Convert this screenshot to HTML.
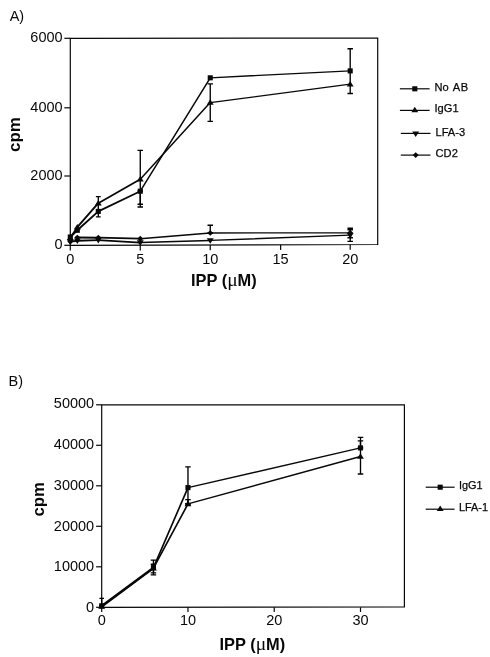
<!DOCTYPE html>
<html><head><meta charset="utf-8"><title>Figure</title>
<style>
html,body{margin:0;padding:0;background:#fff;}
body{width:490px;height:657px;overflow:hidden;}
svg{display:block;font-family:"Liberation Sans",Arial,sans-serif;fill:#080808;}
.ax{stroke:#080808;stroke-width:1.2;fill:none;}
.ln{stroke:#080808;fill:none;stroke-linecap:round;}
.eb{stroke:#000;stroke-width:1.35;fill:none;}
.tk{font-size:14.5px;}
.lg{font-size:11.1px;stroke:#080808;stroke-width:0.25px;}
.al{font-size:16.4px;font-weight:bold;}
.mu{font-family:"Liberation Serif","DejaVu Serif",serif;font-weight:normal;font-size:19.5px;}
.m{fill:#080808;stroke:none;}
</style></head><body>
<svg width="490" height="657" viewBox="0 0 490 657">
<rect width="490" height="657" fill="#fff"/>

<text class="tk" x="9.7" y="21.0">A)</text>
<path class="ax" d="M70.3 38.3L377.7 38.099999999999994L377.7 244.5L70.3 245.3Z"/>
<path class="ax" d="M64.3 245.3H70.3"/>
<text class="tk" text-anchor="end" x="62.6" y="248.9">0</text>
<path class="ax" d="M64.3 176H70.3"/>
<text class="tk" text-anchor="end" x="62.6" y="180.1">2000</text>
<path class="ax" d="M64.3 107.8H70.3"/>
<text class="tk" text-anchor="end" x="62.6" y="111.9">4000</text>
<path class="ax" d="M64.3 38.3H70.3"/>
<text class="tk" text-anchor="end" x="62.6" y="42.4">6000</text>
<path class="ax" d="M70.3 245.3V250.6"/>
<text class="tk" text-anchor="middle" x="70.3" y="263.8">0</text>
<path class="ax" d="M140.27 245.12V250.42"/>
<text class="tk" text-anchor="middle" x="140.27" y="263.8">5</text>
<path class="ax" d="M210.25 244.94V250.24"/>
<text class="tk" text-anchor="middle" x="210.25" y="263.8">10</text>
<path class="ax" d="M280.62 244.75V250.05"/>
<text class="tk" text-anchor="middle" x="280.62" y="263.8">15</text>
<path class="ax" d="M350.2 244.57V249.87"/>
<text class="tk" text-anchor="middle" x="350.2" y="263.8">20</text>
<text class="al" style="font-size:16.9px" transform="translate(19.7 134.6) rotate(-90)" text-anchor="middle">cpm</text>
<text class="al" x="191" y="286.4">IPP (<tspan class="mu">μ</tspan>M)</text>
<path class="eb" d="M98.29 196.6V216.9M95.89 196.6H100.69M95.89 216.9H100.69"/>
<path class="eb" d="M140.27 150.3V204.2M137.52 150.3H143.02M137.52 204.2H143.02"/>
<path class="eb" d="M140.27 191V207M137.52 191H143.02M137.52 207H143.02"/>
<path class="eb" d="M210.25 83.8V121.3M207.5 83.8H213M207.5 121.3H213"/>
<path class="eb" d="M350.2 48.7V93.5M347.45 48.7H352.95M347.45 93.5H352.95"/>
<path class="eb" d="M210.25 225.2V233M207.5 225.2H213M207.5 233H213"/>
<path class="eb" d="M350.2 228.2V237.7M347.45 228.2H352.95M347.45 237.7H352.95"/>
<path class="eb" d="M350.2 229.7V241.3M347.45 229.7H352.95M347.45 241.3H352.95"/>
<path class="ln" stroke-width="1.9" d="M70.3 237L77.3 230.3"/>
<path class="ln" stroke-width="1.9" d="M77.3 230.3L98.29 211.4"/>
<path class="ln" stroke-width="1.75" d="M98.29 211.4L140.27 191.2"/>
<path class="ln" stroke-width="1.5" d="M140.27 191.2L210.25 77.8"/>
<path class="ln" stroke-width="1.35" d="M210.25 77.8L350.2 70.9"/>
<rect class="m" x="67.75" y="234.45" width="5.1" height="5.1"/>
<rect class="m" x="74.75" y="227.75" width="5.1" height="5.1"/>
<rect class="m" x="95.74" y="208.85" width="5.1" height="5.1"/>
<rect class="m" x="137.72" y="188.65" width="5.1" height="5.1"/>
<rect class="m" x="207.7" y="75.25" width="5.1" height="5.1"/>
<rect class="m" x="347.65" y="68.35" width="5.1" height="5.1"/>
<path class="ln" stroke-width="1.9" d="M70.3 238L77.3 227.2"/>
<path class="ln" stroke-width="1.9" d="M77.3 227.2L98.29 203.2"/>
<path class="ln" stroke-width="1.75" d="M98.29 203.2L140.27 179.3"/>
<path class="ln" stroke-width="1.5" d="M140.27 179.3L210.25 102.6"/>
<path class="ln" stroke-width="1.35" d="M210.25 102.6L350.2 84.2"/>
<path class="m" d="M70.3 234.72L73.75 240.24L66.85 240.24Z"/>
<path class="m" d="M77.3 223.92L80.75 229.44L73.85 229.44Z"/>
<path class="m" d="M98.29 199.92L101.74 205.44L94.84 205.44Z"/>
<path class="m" d="M140.27 176.02L143.72 181.54L136.82 181.54Z"/>
<path class="m" d="M210.25 99.32L213.7 104.84L206.8 104.84Z"/>
<path class="m" d="M350.2 80.92L353.65 86.44L346.75 86.44Z"/>
<path class="ln" stroke-width="1.9" d="M70.3 241.6L77.3 240.8"/>
<path class="ln" stroke-width="1.9" d="M77.3 240.8L98.29 240.1"/>
<path class="ln" stroke-width="1.75" d="M98.29 240.1L140.27 242.6"/>
<path class="ln" stroke-width="1.5" d="M140.27 242.6L210.25 240.4"/>
<path class="ln" stroke-width="1.35" d="M210.25 240.4L350.2 235.2"/>
<path class="m" d="M70.3 244.88L73.75 239.36L66.85 239.36Z"/>
<path class="m" d="M77.3 244.08L80.75 238.56L73.85 238.56Z"/>
<path class="m" d="M98.29 243.38L101.74 237.86L94.84 237.86Z"/>
<path class="m" d="M140.27 245.88L143.72 240.36L136.82 240.36Z"/>
<path class="m" d="M210.25 243.68L213.7 238.16L206.8 238.16Z"/>
<path class="m" d="M350.2 238.48L353.65 232.96L346.75 232.96Z"/>
<path class="ln" stroke-width="1.9" d="M77.3 237.5L98.29 237.7"/>
<path class="ln" stroke-width="1.75" d="M98.29 237.7L140.27 238.7"/>
<path class="ln" stroke-width="1.5" d="M140.27 238.7L210.25 233"/>
<path class="ln" stroke-width="1.35" d="M210.25 233L350.2 232.8"/>
<path class="m" d="M70.3 238.75L73.3 241.6L70.3 244.45L67.3 241.6Z"/>
<path class="m" d="M77.3 234.65L80.3 237.5L77.3 240.35L74.3 237.5Z"/>
<path class="m" d="M98.29 234.85L101.29 237.7L98.29 240.55L95.29 237.7Z"/>
<path class="m" d="M140.27 235.85L143.27 238.7L140.27 241.55L137.27 238.7Z"/>
<path class="m" d="M210.25 230.15L213.25 233L210.25 235.85L207.25 233Z"/>
<path class="m" d="M350.2 229.95L353.2 232.8L350.2 235.65L347.2 232.8Z"/>
<path class="ax" d="M399.9 88.8H429.6"/>
<rect class="m" x="412.25" y="86.25" width="5.1" height="5.1"/>
<text class="lg" x="434.5" y="90.6">No <tspan dx="1.1" letter-spacing="0.5">AB</tspan></text>
<path class="ax" d="M399.9 110.4H429.6"/>
<path class="m" d="M414.8 106.72L418.25 112.24L411.35 112.24Z"/>
<text class="lg" x="434.5" y="112">IgG1</text>
<path class="ax" d="M400.8 133.4H430.5"/>
<path class="m" d="M415.7 136.98L419.15 131.46L412.25 131.46Z"/>
<text class="lg" x="435.5" y="135.5">LFA-3</text>
<path class="ax" d="M400.8 155.1H430.5"/>
<path class="m" d="M415.7 152.25L418.7 155.1L415.7 157.95L412.7 155.1Z"/>
<text class="lg" x="435.5" y="157.4">C<tspan letter-spacing="0.3">D2</tspan></text>
<text class="tk" x="8.6" y="386.3">B)</text>
<path class="ax" d="M101.7 404.8L404.4 404.8L404.4 607.0L101.7 607.4Z"/>
<path class="ax" d="M96.1 607.3H101.7"/>
<text class="tk" text-anchor="end" x="94.2" y="611.6">0</text>
<path class="ax" d="M96.1 566.8H101.7"/>
<text class="tk" text-anchor="end" x="94.2" y="570.8">10000</text>
<path class="ax" d="M96.1 526.3H101.7"/>
<text class="tk" text-anchor="end" x="94.2" y="530.5">20000</text>
<path class="ax" d="M96.1 485.8H101.7"/>
<text class="tk" text-anchor="end" x="94.2" y="489.8">30000</text>
<path class="ax" d="M96.1 445.3H101.7"/>
<text class="tk" text-anchor="end" x="94.2" y="448.8">40000</text>
<path class="ax" d="M96.1 404.8H101.7"/>
<text class="tk" text-anchor="end" x="94.2" y="408.2">50000</text>
<path class="ax" d="M101.7 607.3V612"/>
<text class="tk" text-anchor="middle" x="101.7" y="624.8">0</text>
<path class="ax" d="M187.97 607.3V612"/>
<text class="tk" text-anchor="middle" x="187.97" y="624.8">10</text>
<path class="ax" d="M274.23 607.3V612"/>
<text class="tk" text-anchor="middle" x="274.23" y="624.8">20</text>
<path class="ax" d="M360.5 607.3V612"/>
<text class="tk" text-anchor="middle" x="360.5" y="624.8">30</text>
<text class="al" style="font-size:16.8px" transform="translate(43.8 499.3) rotate(-90)" text-anchor="middle">cpm</text>
<text class="al" x="219.5" y="649.5">IPP (<tspan class="mu">μ</tspan>M)</text>
<path class="eb" d="M101.7 598.4V606M99.4 598.4H104M99.4 606H104"/>
<path class="eb" d="M153.46 560.1V574.8M150.71 560.1H156.21M150.71 574.8H156.21"/>
<path class="eb" d="M153.46 564.2V572.8M150.71 564.2H156.21M150.71 572.8H156.21"/>
<path class="eb" d="M187.97 466.8V504M185.22 466.8H190.72M185.22 504H190.72"/>
<path class="eb" d="M187.97 499.6V503.7M185.22 499.6H190.72M185.22 503.7H190.72"/>
<path class="eb" d="M360.5 437.3V447.8M357.75 437.3H363.25M357.75 447.8H363.25"/>
<path class="eb" d="M360.5 440.9V474M357.75 440.9H363.25M357.75 474H363.25"/>
<path class="ln" stroke-width="2.0" d="M101.7 605.8L153.46 567.6"/>
<path class="ln" stroke-width="1.65" d="M153.46 567.6L187.97 487.6"/>
<path class="ln" stroke-width="1.45" d="M187.97 487.6L360.5 447.9"/>
<rect class="m" x="99.15" y="603.25" width="5.1" height="5.1"/>
<rect class="m" x="150.91" y="565.05" width="5.1" height="5.1"/>
<rect class="m" x="185.42" y="485.05" width="5.1" height="5.1"/>
<rect class="m" x="357.95" y="445.35" width="5.1" height="5.1"/>
<path class="ln" stroke-width="2.0" d="M101.7 606.6L153.46 568.2"/>
<path class="ln" stroke-width="1.65" d="M153.46 568.2L187.97 503.9"/>
<path class="ln" stroke-width="1.45" d="M187.97 503.9L360.5 456.5"/>
<path class="m" d="M101.7 603.32L105.15 608.84L98.25 608.84Z"/>
<path class="m" d="M153.46 564.92L156.91 570.44L150.01 570.44Z"/>
<path class="m" d="M187.97 500.62L191.42 506.14L184.52 506.14Z"/>
<path class="m" d="M360.5 453.22L363.95 458.74L357.05 458.74Z"/>
<path class="ax" d="M425.7 487.2H454.6"/>
<rect class="m" x="437.65" y="484.65" width="5.1" height="5.1"/>
<text class="lg" style="font-size:10.9px" x="458.9" y="489">IgG1</text>
<path class="ax" d="M425.7 509.2H454.6"/>
<path class="m" d="M440.2 505.52L443.65 511.04L436.75 511.04Z"/>
<text class="lg" style="font-size:10.9px" x="458.9" y="510.5">LFA-1</text>
</svg></body></html>
